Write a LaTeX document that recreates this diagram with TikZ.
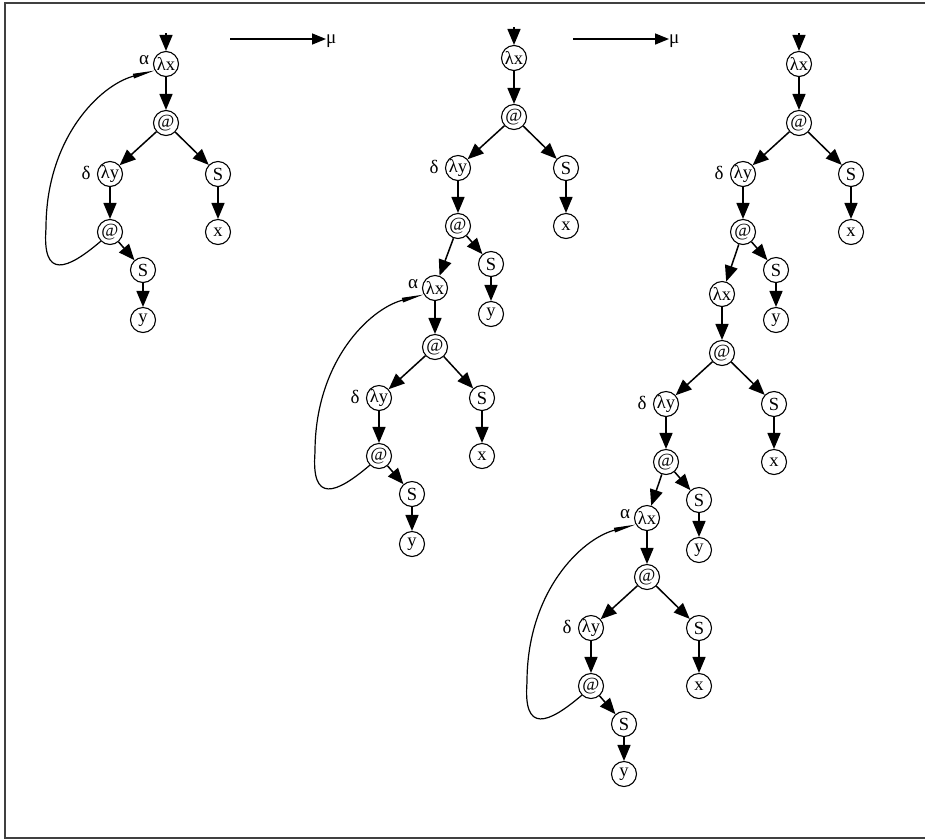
\documentclass[tikz,border=0pt]{standalone}
\usepackage{fontspec}
\setmainfont{Liberation Serif}
\usetikzlibrary{arrows.meta,calc}
\tikzset{
  nd/.style={circle,draw,line width=1.1pt,minimum size=25pt,inner sep=-3pt,font=\fontsize{18.5}{20}\selectfont},
  lbl/.style={inner sep=0pt,font=\fontsize{19}{21}\selectfont},
  ed/.style={line width=1.5pt,-{Triangle[length=16pt,width=13pt]}},
  muarr/.style={line width=1.5pt,-{Triangle[length=14pt,width=11pt]}},
  loopc/.style={line width=1.2pt,-{Triangle[length=22pt,width=4.5pt]}},
  frame/.style={line width=1.5pt,draw=black!75},
}
% prefix, X, Y, right-branch x offset
\newcommand\lamunit[4]{%
  \node[nd] (#1lx) at (#2,#3) {λx};
  \node[nd] (#1a)  at ($(#1lx)+(0,59)$) {@};
  \node[nd] (#1ly) at ($(#1lx)+(-56,110)$) {λy};
  \node[nd] (#1s)  at ($(#1lx)+(#4,110)$) {S};
  \node[nd] (#1x)  at ($(#1lx)+(#4,168)$) {x};
  \node[nd] (#1b)  at ($(#1lx)+(-56,168)$) {@};
  \node[nd] (#1t)  at ($(#1lx)+(-23,206)$) {S};
  \node[nd] (#1y)  at ($(#1lx)+(-23,256)$) {y};
  \node[lbl] (#1dl) at ($(#1ly)+(-24,-1)$) {δ};
  \draw[ed] (#1lx) -- (#1a);
  \draw[ed] (#1a) -- (#1ly);
  \draw[ed] (#1a) -- (#1s);
  \draw[ed] (#1s) -- (#1x);
  \draw[ed] (#1ly) -- (#1b);
  \draw[ed] (#1b) -- (#1t);
  \draw[ed] (#1t) -- (#1y);
}
% loop from lower @ back to lambda x, with alpha label
\newcommand\lamloop[1]{%
  \node[lbl] (#1al) at ($(#1lx)+(-22,-4)$) {α};
  \draw[loopc] (#1b.225) .. controls ($(#1b)+(-43,38)$) and ($(#1b)+(-68,48)$) ..
    ($(#1b)+(-64,-4)$) .. controls ($(#1b)+(-64,-94)$) and ($(#1lx)+(-66,21)$) .. (#1lx.210);
}
\begin{document}
\begin{tikzpicture}[x=1pt,y=-1pt]
  \useasboundingbox (0,0) rectangle (925,839);
  \draw[frame] (925,3) -- (5,3) -- (5,838) -- (925,838);

  % tree 1
  \lamunit{p}{166}{64}{52}
  \lamloop{p}
  \coordinate (pin) at (166,33);
  \draw[ed] (pin) -- (plx);

  % mu arrows
  \coordinate (m1s) at (230,39);
  \node[lbl,anchor=west] (mu1) at (326,41) {μ};
  \draw[muarr] (m1s) -- (mu1.west |- m1s);
  \coordinate (m2s) at (573,39);
  \node[lbl,anchor=west] (mu2) at (669,41) {μ};
  \draw[muarr] (m2s) -- (mu2.west |- m2s);

  % tree 2
  \lamunit{q}{514}{58}{52}
  \lamunit{r}{435}{288}{47}
  \lamloop{r}
  \coordinate (qin) at (514,27);
  \draw[ed] (qin) -- (qlx);
  \draw[ed] (qb) -- (rlx);

  % tree 3
  \lamunit{u}{799}{64}{52}
  \lamunit{v}{722}{294}{52}
  \lamunit{w}{647}{518}{52}
  \lamloop{w}
  \coordinate (uin) at (799,33);
  \draw[ed] (uin) -- (ulx);
  \draw[ed] (ub) -- (vlx);
  \draw[ed] (vb) -- (wlx);
\end{tikzpicture}
\end{document}
